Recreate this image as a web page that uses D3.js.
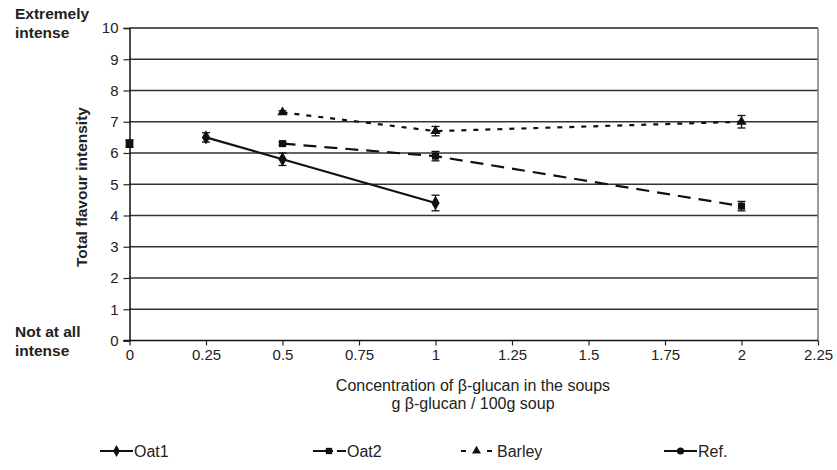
<!DOCTYPE html>
<html><head><meta charset="utf-8">
<script src="https://cdn.jsdelivr.net/npm/d3@7"></script>
<style>body{margin:0;background:#fff}svg{display:block;font-family:"Liberation Sans",Arial,sans-serif}</style>
</head><body><svg id="c" width="837" height="470"></svg>
<script>
const xTicks = [0,0.25,0.5,0.75,1,1.25,1.5,1.75,2,2.25];
const xTickLabels = ["0","0.25","0.5","0.75","1","1.25","1.5","1.75","2","2.25"];
const yTicks = [0,1,2,3,4,5,6,7,8,9,10];
const oat1X = [0.25,0.5,1], oat1Y = [6.5,5.8,4.4], oat1Err = [0.15,0.2,0.25];
const oat2X = [0.5,1,2], oat2Y = [6.3,5.9,4.3], oat2Err = [0.05,0.15,0.15];
const barleyX = [0.5,1,2], barleyY = [7.3,6.7,7.0], barleyErr = [0.05,0.15,0.2];
const refX = [0], refY = [6.3], refErr = [0.12];
const seriesNames = ["Oat1","Oat2","Barley","Ref."];

const svg = d3.select("#c");
const L=129.5, R=818, T=28, B=340.5;
const x = d3.scaleLinear().domain([0,2.25]).range([L,R]);
const y = d3.scaleLinear().domain([0,10]).range([B,T]);

svg.append("g").selectAll("line").data(yTicks.filter(d=>d>0)).join("line")
  .attr("x1",L).attr("x2",R).attr("y1",d=>y(d)).attr("y2",d=>y(d))
  .attr("stroke",d=>d===10?"#222":"#333").attr("stroke-width",1.3);
svg.append("line").attr("x1",R).attr("x2",R).attr("y1",T).attr("y2",B).attr("stroke","#777").attr("stroke-width",1.5);

const yAxis = d3.axisLeft(y).tickValues(yTicks).tickSize(6).tickPadding(5).tickFormat(d3.format("d"));
const gy = svg.append("g").attr("transform",`translate(${L},0)`).call(yAxis);
const xAxis = d3.axisBottom(x).tickValues(xTicks).tickSize(5).tickPadding(4).tickFormat((d,i)=>xTickLabels[i]);
const gx = svg.append("g").attr("transform",`translate(0,${B})`).call(xAxis);
[gx,gy].forEach(g=>{
  g.attr("font-size",null).attr("font-family",null);
  g.select(".domain").attr("stroke","#111").attr("stroke-width",1.5);
  g.selectAll(".tick line").attr("stroke","#222").attr("stroke-width",1.2);
  g.selectAll("text").style("font-size","15px").attr("fill","#222");
});
gx.select(".domain").attr("d",`M${L-6},0H${R}`);

const bold = (t,xx,yy)=>svg.append("text").attr("x",xx).attr("y",yy).style("font-size","15.5px").attr("font-weight","bold").attr("fill","#222").text(t);
svg.append("text").attr("transform",`translate(87,${187}) rotate(-90)`).attr("text-anchor","middle")
  .style("font-size","15.5px").attr("font-weight","bold").attr("fill","#222").text("Total flavour intensity");
bold("Extremely",15,19); bold("intense",15,38); bold("Not at all",15,337); bold("intense",15,356);
svg.append("text").attr("x",473).attr("y",391).attr("text-anchor","middle").style("font-size","16px").attr("fill","#222").text("Concentration of β-glucan in the soups");
svg.append("text").attr("x",473).attr("y",409).attr("text-anchor","middle").style("font-size","16px").attr("fill","#222").text("g β-glucan / 100g soup");

const series = [
  {name:seriesNames[0],xs:oat1X,ys:oat1Y,err:oat1Err,dash:null,sym:d3.symbolDiamond,size:60},
  {name:seriesNames[1],xs:oat2X,ys:oat2Y,err:oat2Err,dash:"13,8",sym:d3.symbolSquare,size:50},
  {name:seriesNames[2],xs:barleyX,ys:barleyY,err:barleyErr,dash:"5,7",sym:d3.symbolTriangle,size:45},
  {name:seriesNames[3],xs:refX,ys:refY,err:refErr,dash:null,sym:d3.symbolSquare,size:60}
];
const line = d3.line().x(d=>x(d[0])).y(d=>y(d[1]));
series.forEach(s=>{
  const pts = s.xs.map((v,i)=>[v,s.ys[i],s.err[i]]);
  const g = svg.append("g");
  g.append("path").attr("d",line(pts)).attr("fill","none").attr("stroke","#111").attr("stroke-width",2.2)
    .attr("stroke-dasharray",s.dash);
  pts.forEach(p=>{
    const cx=x(p[0]), y1=y(p[1]+p[2]), y2=y(p[1]-p[2]);
    g.append("line").attr("x1",cx).attr("x2",cx).attr("y1",y1).attr("y2",y2).attr("stroke","#111").attr("stroke-width",1.3);
    [y1,y2].forEach(yy=>g.append("line").attr("x1",cx-4).attr("x2",cx+4).attr("y1",yy).attr("y2",yy).attr("stroke","#111").attr("stroke-width",1.3));
    g.append("path").attr("d",d3.symbol().type(s.sym).size(s.size)()).attr("transform",`translate(${cx},${y(p[1])})`).attr("fill","#111");
  });
});

const legX = [100,313,460,664];
const legY = 451;
series.forEach((s,i)=>{
  const g = svg.append("g").attr("transform",`translate(${legX[i]},${legY})`);
  g.append("line").attr("x1",0).attr("x2",33).attr("y1",0).attr("y2",0).attr("stroke","#111").attr("stroke-width",2.2)
    .attr("stroke-dasharray",i===1?"20,4,9":(i===2?"5,8":null)).attr("stroke-dashoffset",i===2?-1:0);
  const sym = i===3?d3.symbolCircle:s.sym;
  g.append("path").attr("d",d3.symbol().type(sym).size(i===2?35:40)()).attr("transform",`translate(${i===1?16:16.5},0)`).attr("fill","#111");
  g.append("text").attr("x",i===2?37:34).attr("y",6).style("font-size","16px").attr("fill","#222").text(s.name);
});
</script></body></html>
